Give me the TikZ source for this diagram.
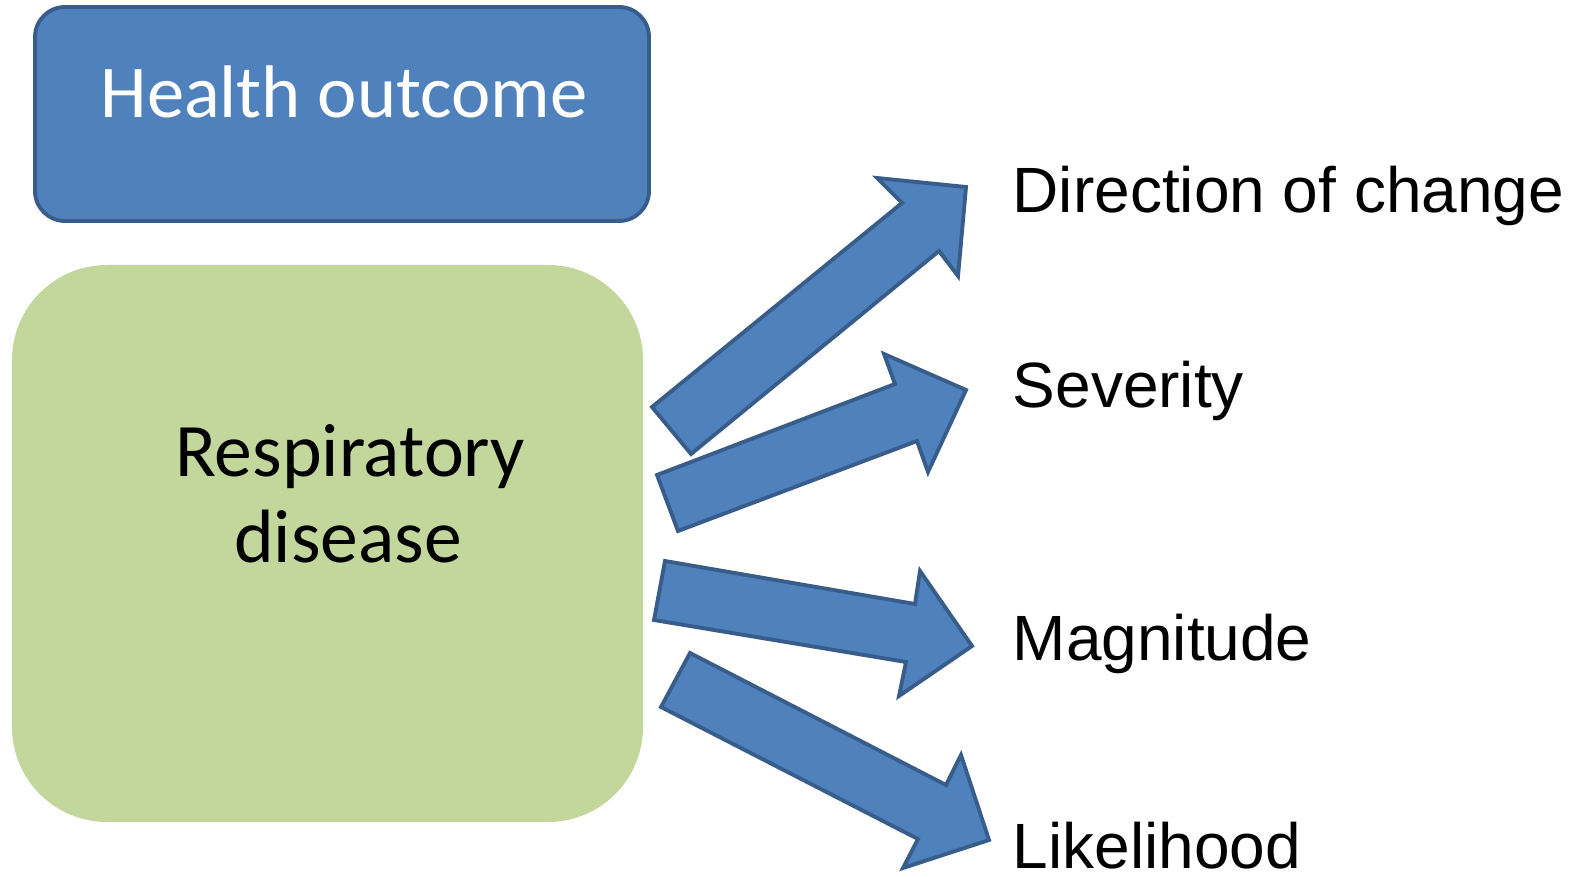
\documentclass[tikz,border=0pt]{standalone}
\usepackage{fontspec}
\setmainfont{Carlito}
\newfontfamily\arialfont{Liberation Sans}
\definecolor{boxblue}{HTML}{4F81BD}
\definecolor{lineblue}{HTML}{385D8A}
\definecolor{boxgreen}{HTML}{C3D69B}
\tikzset{
	blockarrow/.style={fill=boxblue, draw=lineblue, line width=1.1pt, line join=miter},
	outlabel/.style={anchor=base west, inner sep=0pt, font=\arialfont\fontsize{18.2}{22}\selectfont}
}
\begin{document}
\begin{tikzpicture}[x=0.01cm, y=-0.01cm]
		\useasboundingbox (0,0) rectangle (1577,877);
		
		% boxes
		\draw[fill=boxblue, draw=lineblue, line width=1.1pt, rounded corners=0.3cm]
			(35,7) rectangle (649,221);
		\fill[boxgreen, rounded corners=0.95cm] (12,265) rectangle (643,822);
		
		\node[anchor=base, inner sep=0pt, text=white,
			font=\fontsize{21.2}{26}\selectfont] (health) at (344,118) {Health outcome};
		\node[anchor=base, inner sep=0pt,
			font=\fontsize{21.5}{24.4}\selectfont] (resp) at (350,477) {Respiratory};
		\node[anchor=base, inner sep=0pt,
			font=\fontsize{21.5}{24.4}\selectfont] (dis) at (348,563) {disease};
		
		% outcome labels
		\node[outlabel] (direction) at (1012,213) {Direction of change};
		\node[outlabel] (severity) at (1012,408) {Severity};
		\node[outlabel] (magnitude) at (1012,660) {Magnitude};
		\node[outlabel] (likelihood) at (1012,868) {Likelihood};
		
		% block arrows
		\draw[blockarrow] (652,407) -- (902,203) -- (877,178) -- (966,187)
			-- (958,276) -- (939,251) -- (691,454) -- cycle;
		\draw[blockarrow] (657,475) -- (895,384) -- (884,354) -- (966,390)
			-- (928,472) -- (917,441) -- (678,531) -- cycle;
		\draw[blockarrow] (665,561) -- (915,604) -- (920,571) -- (972,646)
			-- (899,696) -- (906,662) -- (654,620) -- cycle;
		\draw[blockarrow] (690,653) -- (946,785) -- (961,755) -- (989,840)
			-- (903,868) -- (918,839) -- (661,707) -- cycle;
\end{tikzpicture}
\end{document}
